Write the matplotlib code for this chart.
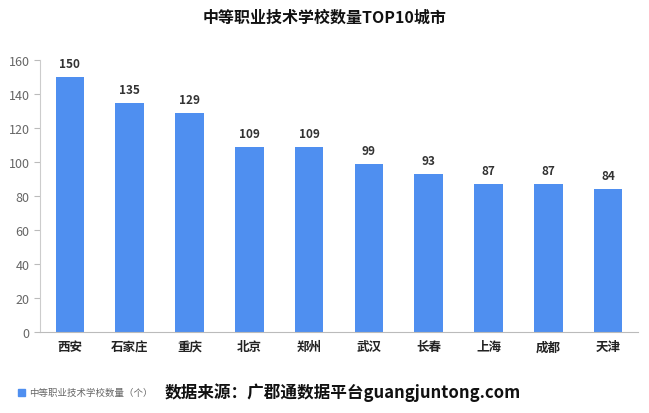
import matplotlib
matplotlib.use("Agg")
from matplotlib import pyplot as plt

plt.rcParams['font.family'] = ['Noto Sans CJK SC', 'DejaVu Sans']

# данные
cities = ["西安", "石家庄", "重庆", "北京", "郑州", "武汉", "长春", "上海", "成都", "天津"]
counts = [150, 135, 129, 109, 109, 99, 93, 87, 87, 84]
y_ticks = [0, 20, 40, 60, 80, 100, 120, 140, 160]

bar_color = "#4F8FF0"

fig = plt.figure(figsize=(6.49, 4.14), dpi=100)
ax = fig.add_axes([40 / 649, 81 / 414, 598 / 649, 272 / 414])

x = list(range(len(cities)))
bars = ax.bar(x, counts, width=0.48, color=bar_color)

for xi, v in zip(x, counts):
    ax.text(xi, v + 4, str(v), ha="center", va="bottom",
            fontsize=8.5, fontweight="bold", color="#333333")

ax.set_xlim(-0.5, len(cities) - 0.5)
ax.set_ylim(0, 160)
ax.set_yticks(y_ticks)
ax.tick_params(axis="y", labelsize=9, labelcolor="#666666", color="#bbbbbb", length=4)
ax.set_xticks(x)
ax.set_xticklabels(cities, fontsize=9, fontweight="bold", color="#222222")
ax.tick_params(axis="x", length=0, pad=6)

for side in ["top", "right"]:
    ax.spines[side].set_visible(False)
ax.spines["left"].set_color("#cccccc")
ax.spines["bottom"].set_color("#bbbbbb")

fig.text(0.5, 1 - 18 / 414, "中等职业技术学校数量TOP10城市", ha="center", va="center",
         fontsize=11.5, fontweight="bold", color="#111111")

# легенда и источник
fig.patches.append(plt.Rectangle((18 / 649, 1 - 397 / 414), 7 / 649, 7 / 414,
                                 transform=fig.transFigure, color=bar_color))
fig.text(29 / 649, 1 - 393 / 414, "中等职业技术学校数量（个）", ha="left", va="center",
         fontsize=6.8, color="#666666")
fig.text(165 / 649, 1 - 393 / 414, "数据来源：广郡通数据平台guangjuntong.com", ha="left", va="center",
         fontsize=12, fontweight="bold", color="#111111")

fig.savefig("out.png", dpi=100)
